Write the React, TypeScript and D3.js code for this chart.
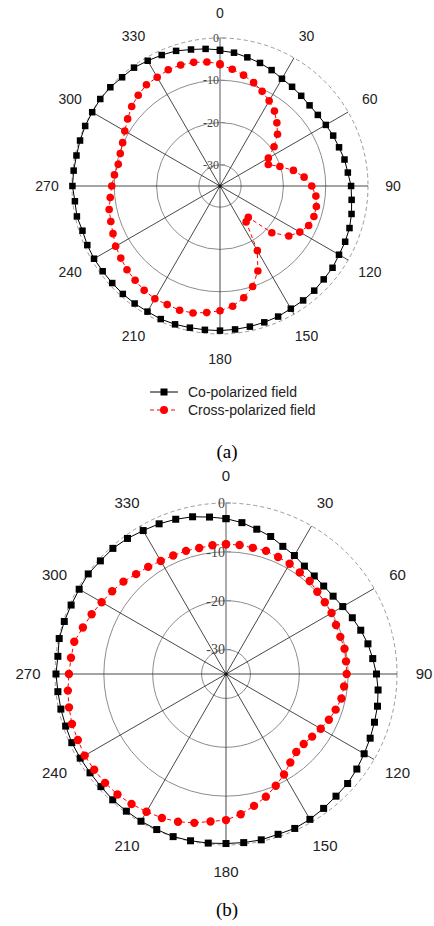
import React from 'react';
import * as d3 from 'd3';

// angles in degrees, clockwise from top
const angles = d3.range(0, 361, 6);

// (a) values in dB
const coA = [-3.0, -3.3, -3.9, -4.4, -5.0, -5.7, -6.0, -6.3, -6.5, -6.4, -6.1, -5.7, -5.4, -4.9, -4.6, -4.0,
  -3.7, -3.2, -2.8, -2.6, -2.5, -2.1, -2.0, -1.7, -1.55, -1.5, -1.2, -1.1, -1.0, -0.9, -0.8,
  -0.8, -0.75, -0.6, -0.55, -0.7, -0.65, -0.65, -0.7, -0.7, -0.6, -0.65, -0.8, -0.4, -0.5, -0.1,
  -0.2, -0.3, -0.2, -0.1, -0.1, 0, -0.1, -0.4, -0.4, -0.8, -1.1, -1.4, -2.0, -2.4, -2.8];
const crossA = [-6.3, -7.25, -8.2, -9.3, -10.5, -11.75, -13.1, -14.9, -16.7, -19.2, -21.8, -22.5, -20.1, -17.25, -15.0, -13.3,
  -12.2, -11.7, -11.65, -12.05, -13.2, -14.9, -18.5, -25.0, -24.5, -17.35, -13.0, -10.0, -8.0, -6.4, -5.5,
  -4.9, -4.3, -4.1, -4.3, -4.2, -4.5, -5.0, -5.4, -6.0, -6.5, -7.3, -7.85, -8.2, -8.9, -9.4,
  -9.9, -10.4, -10.2, -9.8, -9.0, -8.0, -6.9, -6.1, -5.4, -5.3, -4.9, -4.9, -5.1, -5.5, -6.1];

// (b) values in dB
const coB = [-3.2, -3.85, -4.7, -5.4, -6.4, -7.0, -7.7, -8.0, -8.1, -7.9, -7.4, -6.7, -6.0, -5.3, -4.8, -4.2,
  -3.7, -3.3, -3.05, -2.7, -2.35, -1.9, -1.5, -1.35, -1.0, -0.65, -0.4, -0.5, -0.3, -0.3, -0.3,
  -0.2, -0.1, 0, -0.15, -0.2, -0.3, -0.35, -0.55, -0.6, -0.55, -0.45, -0.5, -0.45, -0.4, -0.2,
  -0.4, -0.1, -0.2, -0.3, -0.3, -0.15, -0.4, -0.4, -0.7, -1.1, -1.35, -1.7, -2.1, -2.7, -3.2];
const crossB = [-8.45, -8.45, -8.6, -8.5, -8.8, -8.95, -9.3, -9.4, -9.85, -10.0, -10.05, -10.35, -10.4, -10.2, -10.3, -10.3,
  -10.7, -10.85, -11.4, -11.95, -12.6, -13.2, -13.6, -13.5, -12.6, -11.25, -9.95, -8.6, -7.4, -6.15, -5.1,
  -4.65, -3.85, -3.2, -2.75, -2.45, -2.1, -1.8, -1.7, -1.65, -1.6, -1.8, -1.85, -2.15, -2.45, -2.85,
  -3.1, -3.25, -4.2, -4.9, -5.6, -6.2, -6.75, -7.5, -7.9, -8.3, -8.45, -8.5, -8.65, -8.5, -8.45];

const spokeAngles = d3.range(0, 360, 30);
const ringTicks = [0, -10, -20, -30];
const legendLabels = ['Co-polarized field', 'Cross-polarized field'];

const rad = (a: number) => (a * Math.PI) / 180;

function Polar({ cx, cy, R, labelR, co, cross, angleFont, tickFont, sq, dot }) {
  const r = d3.scaleLinear().domain([-35, 0]).range([0, R]);
  const pt = (a: number, v: number) => [r(v) * Math.sin(rad(a)), -r(v) * Math.cos(rad(a))];
  const line = d3.lineRadial<number>()
    .angle((_, i) => rad(angles[i]))
    .radius(d => r(d));

  return (
    <g transform={`translate(${cx},${cy})`}>
      {/* grid rings */}
      {ringTicks.slice(1).map(t => (
        <circle key={t} r={r(t)} fill="none" stroke="#8c8c8c" strokeWidth={1} />
      ))}
      <circle r={r(0)} fill="none" stroke="#9a9a9a" strokeWidth={1} strokeDasharray="4,3" />
      {/* spokes */}
      {spokeAngles.filter(a => a !== 0).map(a => (
        <line key={a} x1={0} y1={0} x2={R * Math.sin(rad(a))} y2={-R * Math.cos(rad(a))}
          stroke="#333" strokeWidth={0.9} />
      ))}
      <line x1={0} y1={0} x2={0} y2={-R} stroke="#888" strokeWidth={1.4} />
      {ringTicks.map(t => (
        <g key={t} transform={`translate(0,${-r(t)})`}>
          <line x1={0} x2={5} y1={0} y2={0} stroke="#888" strokeWidth={1} />
          <text x={-1} y={0} dy="0.35em" textAnchor="end" fontFamily="'Liberation Serif', serif"
            fontSize={tickFont} fill="#444">{t}</text>
        </g>
      ))}
      <circle r={1.8} fill="#111" />
      {/* angle labels */}
      {spokeAngles.map(a => (
        <text key={a} x={labelR * Math.sin(rad(a))} y={-labelR * Math.cos(rad(a))} dy="0.35em"
          textAnchor="middle" fontFamily="'Liberation Sans', Arial, sans-serif" fontSize={angleFont} fill="#222">{a}</text>
      ))}
      {/* series */}
      <path d={line(co) ?? ''} fill="none" stroke="#000" strokeWidth={1} />
      {co.map((v, i) => {
        const [x, y] = pt(angles[i], v);
        return <rect key={i} x={x - sq / 2} y={y - sq / 2} width={sq} height={sq} fill="#000" />;
      })}
      <path d={line(cross) ?? ''} fill="none" stroke="#f00" strokeWidth={1} strokeDasharray="4,3" />
      {cross.map((v, i) => {
        const [x, y] = pt(angles[i], v);
        return <circle key={i} cx={x} cy={y} r={dot} fill="#f00" />;
      })}
    </g>
  );
}

export default function App() {
  return (
    <svg width={434} height={926} style={{ position: 'absolute', left: 0, top: 0, background: '#fff' }}>
      <Polar cx={220} cy={186} R={148} labelR={173} co={coA} cross={crossA} angleFont={14} tickFont={12} sq={6.5} dot={3.8} />

      {/* legend */}
      <g fontFamily="'Liberation Sans', Arial, sans-serif" fontSize={14} fill="#222">
        <line x1={150} x2={178} y1={392} y2={392} stroke="#000" strokeWidth={1} />
        <rect x={160.5} y={388.5} width={7} height={7} fill="#000" />
        <text x={188} y={392} dy="0.35em">{legendLabels[0]}</text>
        <line x1={150} x2={178} y1={410} y2={410} stroke="#f00" strokeWidth={1} strokeDasharray="4,3" />
        <circle cx={164} cy={410} r={4} fill="#f00" />
        <text x={188} y={410} dy="0.35em">{legendLabels[1]}</text>
      </g>
      <text x={227} y={451} dy="0.35em" textAnchor="middle" fontFamily="'Liberation Serif', serif" fontSize={19}>(a)</text>

      <Polar cx={226} cy={674} R={171} labelR={198} co={coB} cross={crossB} angleFont={15} tickFont={14} sq={7} dot={4.2} />
      <text x={227} y={909} dy="0.35em" textAnchor="middle" fontFamily="'Liberation Serif', serif" fontSize={19}>(b)</text>
    </svg>
  );
}
